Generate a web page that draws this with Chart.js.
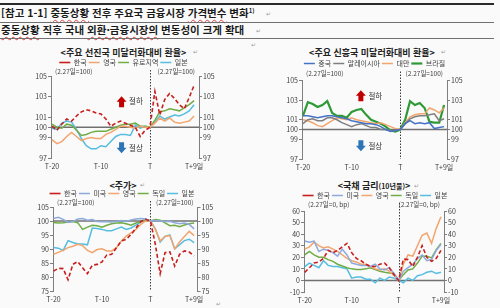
<!DOCTYPE html>
<html lang="ko">
<head>
<meta charset="utf-8">
<title>중동상황 전후 주요국 금융시장 가격변수 변화</title>
<script src="https://cdn.jsdelivr.net/npm/chart.js"></script>
<style>
  html, body { margin: 0; padding: 0; background: #fafafa; }
  #page { position: relative; width: 500px; height: 308px; overflow: hidden;
          font-family: "Noto Sans CJK KR", sans-serif; color: #1a1a1a; }
  .rule { position: absolute; left: 0; width: 494px; height: 1px; background: #707070; }
  .head { position: absolute; left: 1px; font-size: 10.5px; font-weight: bold; line-height: 14px; white-space: nowrap; }
  .wavy { text-decoration: underline wavy #e04040; text-decoration-thickness: 1px; text-underline-offset: 2px; }
  .ttl { position: absolute; width: 240px; text-align: center; font-size: 9px; font-weight: bold;
         line-height: 11px; white-space: nowrap; color: #222; }
  .pm { position: absolute; font-size: 6px; color: #9a9a9a; line-height: 8px; }
  canvas { position: absolute; left: 0; top: 0; }
</style>
</head>
<body>
<div id="page">
  <div class="rule" style="top:3px;height:2px;background:#2a2a2a"></div>
  <div class="head" style="top:6px">[참고 1-1] <span class="wavy">중동상황</span> 전후 주요국 금융시장 <span class="wavy">가격변수</span> 변화<sup style="font-size:6px;line-height:0">1)</sup></div>
  <div class="pm" style="left:266px;top:10px">↵</div>
  <div class="rule" style="top:22px"></div>
  <div class="head" style="top:23px"><span class="wavy">중동상황</span> 직후 국내 <span class="wavy">외환·금융시장의</span> 변동성이 크게 확대</div>
  <div class="pm" style="left:256px;top:27px">↵</div>
  <div class="rule" style="top:38px"></div>

  <div class="ttl" style="left:3.5px;top:46.8px">&lt;주요 선진국 미달러화대비 환율&gt;</div>
  <div class="pm" style="left:193px;top:48px">↵</div>
  <div class="ttl" style="left:252px;top:46.8px">&lt;주요 신흥국 미달러화대비 환율&gt;</div>
  <div class="pm" style="left:441px;top:48px">↵</div>
  <div class="pm" style="left:251px;top:41px">↵</div>
  <div class="ttl" style="left:3px;top:179.5px">&lt;주가&gt;</div>
  <div class="pm" style="left:140px;top:181px">↵</div>
  <div class="ttl" style="left:254px;top:180px">&lt;국채 금리<span style="font-size:7px">(10년물)</span>&gt;</div>
  <div class="pm" style="left:414px;top:182px">↵</div>
  <div class="pm" style="left:216px;top:300px">↵</div>

  <canvas id="c1" width="230" height="130"></canvas>
  <canvas id="c2" width="230" height="130"></canvas>
  <canvas id="c3" width="230" height="130"></canvas>
  <canvas id="c4" width="230" height="130"></canvas>
</div>

<script>
// 영업일 기준 (T = 2.27일)
const days = [-20, -19, -18, -17, -16, -15, -14, -13, -12, -11, -10, -9, -8, -7, -6, -5, -4, -3, -2, -1,
              0, 1, 2, 3, 4, 5, 6, 7, 8, 9];
const xTickPos = [-20, -10, 0, 9];
const xTickText = ['T-20', 'T-10', 'T', 'T+9일'];

// 주요 선진국 미달러화대비 환율 (2.27일=100)
const advKorea = [100.1, 99.7, 100.3, 100.8, 100.6, 101.1, 101.5, 101.7, 101.6, 101.4, 101.3, 100.8, 100.1, 100.4, 100.6, 100.4, 100.2, 100.0, 99.1, 99.7,
                  100.0, 103.5, 101.2, 102.7, 103.3, 102.8, 102.2, 101.8, 102.9, 104.1];
const advUK = [98.8, 98.4, 98.6, 99.1, 99.5, 99.1, 98.7, 98.9, 99.0, 98.9, 98.9, 99.3, 99.5, 99.8, 100.1, 100.1, 100.0, 99.9, 100.1, 100.0,
               100.0, 100.4, 100.9, 100.6, 100.9, 100.5, 100.4, 100.5, 100.6, 101.1];
const advEuro = [100.3, 100.0, 99.9, 100.3, 100.2, 99.7, 99.2, 99.3, 99.5, 99.6, 99.6, 99.6, 99.8, 100.0, 100.2, 100.3, 100.3, 100.4, 100.1, 100.1,
                 100.0, 100.7, 101.5, 101.6, 101.8, 101.7, 101.6, 101.9, 102.2, 102.6];
const advJapan = [99.9, 99.8, 100.4, 100.6, 100.5, 99.8, 98.9, 98.2, 97.9, 97.9, 98.2, 98.1, 98.6, 99.1, 99.3, 99.3, 99.2, 100.2, 99.9, 100.1,
                  100.0, 100.5, 101.1, 100.8, 101.0, 101.2, 101.1, 101.3, 101.6, 102.2];

// 주요 신흥국 미달러화대비 환율 (2.27일=100)
const emChina = [101.4, 101.4, 101.3, 101.2, 101.3, 101.4, 101.4, 101.3, 101.2, 101.1, 100.9, 100.8, 100.7, 100.6, 100.6, 100.5, 100.3, 100.0, 99.8, 99.9,
                 100.0, 100.6, 100.9, 100.6, 100.7, 100.6, 100.7, 100.1, 100.2, 100.3];
const emMalaysia = [100.6, 101.0, 101.1, 100.9, 100.9, 101.2, 101.2, 101.0, 100.7, 100.5, 100.3, 100.5, 100.6, 100.4, 100.2, 100.2, 100.0, 100.0, 99.9, 99.9,
                    100.0, 100.6, 101.1, 101.3, 101.4, 101.4, 101.5, 101.6, 100.9, 101.1];
const emTaiwan = [101.0, 100.9, 100.7, 100.4, 100.3, 100.6, 100.9, 101.2, 101.1, 101.0, 101.2, 101.0, 100.9, 100.8, 100.7, 100.6, 100.7, 100.5, 100.3, 100.1,
                  100.0, 100.7, 101.3, 101.5, 101.6, 101.6, 102.2, 102.0, 101.7, 102.2];
const emBrazil = [101.4, 102.8, 102.6, 102.3, 102.5, 102.9, 101.7, 101.4, 101.4, 101.2, 101.8, 102.0, 102.1, 101.5, 101.0, 100.8, 100.6, 100.3, 99.9, 99.8,
                  100.0, 101.0, 102.9, 102.5, 102.7, 102.2, 100.8, 100.7, 100.7, 102.5];
const fxTicks = [97, 99, 100, 101, 103, 105];

// 주가 (2.27일=100)
const stkKorea = [82.1, 83.1, 83.0, 79.0, 84.5, 85.5, 83.3, 81.2, 84.2, 84.5, 85.4, 87.9, 88.1, 90.5, 92.9, 93.5, 95.2, 97.4, 99.8, 100.6,
                  100.0, 91.7, 81.2, 88.7, 89.0, 83.9, 88.1, 89.3, 88.9, 87.5];
const stkUS = [100.9, 101.3, 100.6, 99.5, 99.8, 100.7, 100.9, 100.3, 100.5, 99.8, 99.7, 99.7, 99.6, 99.8, 100.2, 99.8, 100.4, 100.7, 100.9, 100.7,
               100.0, 100.2, 100.0, 99.8, 99.9, 99.4, 99.0, 99.3, 98.8, 97.2];
const stkUK = [88.1, 88.8, 89.5, 90.5, 91.0, 91.7, 91.2, 89.5, 88.7, 89.8, 90.1, 89.3, 89.3, 90.5, 92.9, 94.6, 95.8, 97.0, 98.8, 100.0,
               100.0, 97.0, 92.9, 94.5, 94.8, 90.0, 92.5, 94.5, 96.3, 94.8];
const stkGermany = [99.5, 99.3, 99.4, 99.6, 99.8, 99.4, 97.0, 97.8, 98.5, 98.3, 97.8, 98.5, 99.0, 99.3, 99.4, 99.0, 98.5, 99.3, 99.8, 100.5,
                    100.0, 100.5, 100.3, 99.3, 98.3, 98.5, 98.0, 98.6, 99.0, 99.3];
const stkJapan = [90.5, 90.3, 89.5, 93.0, 92.3, 91.8, 91.8, 91.5, 97.5, 97.3, 97.0, 96.5, 96.5, 97.2, 97.8, 97.0, 97.5, 98.5, 99.6, 100.7,
                  100.0, 97.2, 92.5, 94.5, 95.0, 90.0, 91.5, 93.0, 93.5, 92.3];
const stkTicks = [75, 80, 85, 90, 95, 100, 105];

// 국채 금리(10년물) 변화 (2.27일=0, bp)
const bndKorea = [7, 11, 15, 16, 19, 26, 24, 26, 29, 32, 24, 19, 17, 14, 12, 12, 14, 15, 11, 5,
                  0, 18.5, 18, 12, 20, 30, 20, 16.5, 19, 26];
const bndUS = [34, 33, 34, 25, 27, 26, 24, 21, 27, 22, 15, 14, 13, 13, 12, 14, 10, 9, 11, 6,
               0, 8, 11, 14, 19, 22, 17, 18, 26, 31];
const bndUK = [27, 29, 33, 30, 28, 29, 27, 25, 22, 19, 17, 16, 14, 14, 12, 10, 9, 10, 8, 4,
               0, 14, 22, 21, 30, 39, 41, 32, 45, 55];
const bndGermany = [22, 25, 22, 20, 20, 18, 16.5, 14, 12.5, 11, 10, 9.5, 9.5, 10, 11, 9.5, 8, 7, 6.5, 6,
                    0, 5, 9, 10, 15, 21, 21, 19.5, 26.5, 32];
const bndJapan = [12, 15, 13, 11, 17, 13, 12, 12, 11, 10, 2, 3, 3, 1, 1, -2, 2, 0, 3, 2,
                  0, -2, 2, 0, 4, 5, 7, 8, 6, 7];
const bndTicks = [-10, 0, 10, 20, 30, 40, 50, 60];

const RED = '#c81e1e', ORANGE = '#f2a56e', GREEN = '#70ad47', CYAN = '#55bde0', PERI = '#8eaadc';

Chart.defaults.font.family = '"Noto Sans CJK KR", sans-serif';
Chart.defaults.color = '#404040';

function blockArrow(ctx, cx, cy, up, color) {
  const w = 10, h = 11, sw = 5, hh = 5.5;
  const s = up ? -1 : 1;
  const tipY = cy + s * h / 2, baseY = cy - s * h / 2, neckY = tipY - s * hh;
  ctx.fillStyle = color;
  ctx.beginPath();
  ctx.moveTo(cx, tipY);
  ctx.lineTo(cx + w / 2, neckY);
  ctx.lineTo(cx + sw / 2, neckY);
  ctx.lineTo(cx + sw / 2, baseY);
  ctx.lineTo(cx - sw / 2, baseY);
  ctx.lineTo(cx - sw / 2, neckY);
  ctx.lineTo(cx - w / 2, neckY);
  ctx.closePath();
  ctx.fill();
}

function makeDecor(spec) {
  return {
    id: 'decor',
    beforeDatasetsDraw(chart) {
      const {ctx, chartArea: a} = chart;
      const x = chart.scales.x, y = chart.scales.y;
      ctx.save();
      const by = y.getPixelForValue(spec.base);
      ctx.strokeStyle = '#707070';
      ctx.lineWidth = 1.4;
      ctx.beginPath(); ctx.moveTo(a.left, by); ctx.lineTo(a.right, by); ctx.stroke();
      const tx = Math.round(x.getPixelForValue(0)) + 0.5;
      ctx.strokeStyle = '#3a3a3a';
      ctx.lineWidth = 1;
      ctx.setLineDash([1.5, 1.5]);
      ctx.beginPath(); ctx.moveTo(tx, a.top - spec.noteLift - 2); ctx.lineTo(tx, a.bottom); ctx.stroke();
      ctx.restore();
    },
    afterDatasetsDraw(chart) {
      const {ctx, chartArea: a} = chart;
      const x = chart.scales.x, y = chart.scales.y;
      ctx.save();
      ctx.font = '6.5px "Noto Sans CJK KR"';
      ctx.fillStyle = '#404040';
      ctx.textBaseline = 'middle';
      const ny = a.top - spec.noteLift;
      ctx.textAlign = 'left';
      ctx.fillText(spec.note, a.left + 4, ny);
      ctx.textAlign = 'right';
      ctx.fillText(spec.note, a.right - 4, ny);
      (spec.arrows || []).forEach(ar => {
        const cx = x.getPixelForValue(ar.x), cy = y.getPixelForValue(ar.y);
        blockArrow(ctx, cx, cy, ar.up, ar.up ? '#c00000' : '#2e75b6');
        ctx.fillStyle = '#333';
        ctx.textAlign = 'left';
        ctx.font = '7.5px "Noto Sans CJK KR"';
        ctx.fillText(ar.up ? '절하' : '절상', cx + 7.5, cy);
      });
      ctx.restore();
    }
  };
}

function yAxis(spec, pos, width) {
  return {
    type: 'linear', position: pos, min: spec.yMin, max: spec.yMax,
    afterBuildTicks: s => { s.ticks = spec.yTicks.map(v => ({value: v})); },
    afterFit: s => { s.width = width; },
    ticks: {padding: 1, font: {size: 7}, color: '#404040'},
    grid: {drawOnChartArea: false, drawTicks: true, tickLength: 3, tickColor: '#7f7f7f', color: '#7f7f7f'},
    border: {display: true, color: '#7f7f7f', width: 1}
  };
}

function build(spec) {
  const a = spec.area;
  const wL = 24;
  const wR = wL + (2 * spec.legendCenter - a.l - a.r);
  const chart = new Chart(document.getElementById(spec.id), {
    type: 'line',
    data: {
      datasets: spec.series.map(s => ({
        label: s.name,
        data: s.values.map((v, i) => ({x: days[i], y: v})),
        xAxisID: 'x', yAxisID: 'y',
        borderColor: s.color, backgroundColor: s.color,
        borderWidth: s.width || 1.5, borderDash: s.dash || [],
        pointRadius: 0, pointHoverRadius: 0, pointStyle: 'line',
        tension: 0, fill: false
      }))
    },
    options: {
      responsive: false, maintainAspectRatio: false, animation: false, events: [],
      layout: {padding: {left: 0, right: 0, top: 2, bottom: 1}},
      plugins: {
        tooltip: {enabled: false},
        title: {display: false},
        legend: {
          position: 'top',
          labels: {usePointStyle: true, pointStyleWidth: 11, padding: 2, font: {size: 7}, color: '#404040'}
        }
      },
      scales: {
        x: {
          type: 'linear', min: spec.xMin, max: spec.xMax,
          afterBuildTicks: s => { s.ticks = xTickPos.map(v => ({value: v})); },
          afterFit: s => { s.height = 12; },
          ticks: {autoSkip: false, maxRotation: 0, padding: 4, font: {size: 7}, color: '#404040',
                  callback: v => xTickText[xTickPos.indexOf(v)]},
          grid: {display: false, drawTicks: false},
          border: {display: false}
        },
        gap: {
          type: 'linear', position: 'top', display: true,
          afterFit: s => { s.height = spec.gap; },
          ticks: {display: false}, grid: {display: false, drawTicks: false}, border: {display: false}
        },
        y: yAxis(spec, 'left', wL),
        y2: yAxis(spec, 'right', wR)
      }
    },
    plugins: [makeDecor(spec)]
  });
  let ca = chart.chartArea;
  const w = Math.round(chart.width + (a.r - a.l) - (ca.right - ca.left));
  const h = Math.round(chart.height + (a.b - a.t) - (ca.bottom - ca.top));
  chart.resize(w, h);
  ca = chart.chartArea;
  chart.canvas.style.left = (a.l - ca.left) + 'px';
  chart.canvas.style.top = (a.t - ca.top) + 'px';
  return chart;
}

build({
  id: 'c1', area: {l: 51, r: 199, t: 76, b: 157.5}, legendCenter: 123.5, gap: 0,
  xMin: -20.2, xMax: 10.0, yMin: 97, yMax: 105, yTicks: fxTicks, base: 100,
  note: '(2.27일=100)', noteLift: 4,
  arrows: [{x: -5.8, y: 102.5, up: true}, {x: -5.8, y: 98.0, up: false}],
  series: [
    {name: '한국', values: advKorea, color: RED, width: 1.6, dash: [4, 2.5]},
    {name: '영국', values: advUK, color: ORANGE},
    {name: '유로지역', values: advEuro, color: GREEN},
    {name: '일본', values: advJapan, color: CYAN}
  ]
});

build({
  id: 'c2', area: {l: 302, r: 447, t: 80.7, b: 159.3}, legendCenter: 374.5, gap: 3.5,
  xMin: -20.2, xMax: 9.6, yMin: 97, yMax: 105, yTicks: fxTicks, base: 100,
  note: '(2.27일=100)', noteLift: 7,
  arrows: [{x: -8.1, y: 103.45, up: true}, {x: -8.1, y: 98.35, up: false}],
  series: [
    {name: '중국', values: emChina, color: '#4472c4'},
    {name: '말레이시아', values: emMalaysia, color: '#7f7f7f'},
    {name: '대만', values: emTaiwan, color: ORANGE},
    {name: '브라질', values: emBrazil, color: '#2e9a36', width: 2.2}
  ]
});

build({
  id: 'c3', area: {l: 52.5, r: 197, t: 207, b: 290.5}, legendCenter: 121.5, gap: 0,
  xMin: -20.1, xMax: 9.7, yMin: 75, yMax: 105, yTicks: stkTicks, base: 100,
  note: '(2.27일=100)', noteLift: 4,
  series: [
    {name: '한국', values: stkKorea, color: RED, width: 1.6, dash: [4, 2.5]},
    {name: '미국', values: stkUS, color: PERI},
    {name: '영국', values: stkUK, color: ORANGE},
    {name: '독일', values: stkGermany, color: GREEN},
    {name: '일본', values: stkJapan, color: CYAN}
  ]
});

build({
  id: 'c4', area: {l: 304, r: 444, t: 211, b: 292}, legendCenter: 375, gap: 2,
  xMin: -20.15, xMax: 9.65, yMin: -10, yMax: 60, yTicks: bndTicks, base: 0,
  note: '(2.27일=0, bp)', noteLift: 6,
  series: [
    {name: '한국', values: bndKorea, color: RED, width: 1.6, dash: [4, 2.5]},
    {name: '미국', values: bndUS, color: PERI},
    {name: '영국', values: bndUK, color: ORANGE},
    {name: '독일', values: bndGermany, color: GREEN},
    {name: '일본', values: bndJapan, color: CYAN}
  ]
});
</script>
</body>
</html>
